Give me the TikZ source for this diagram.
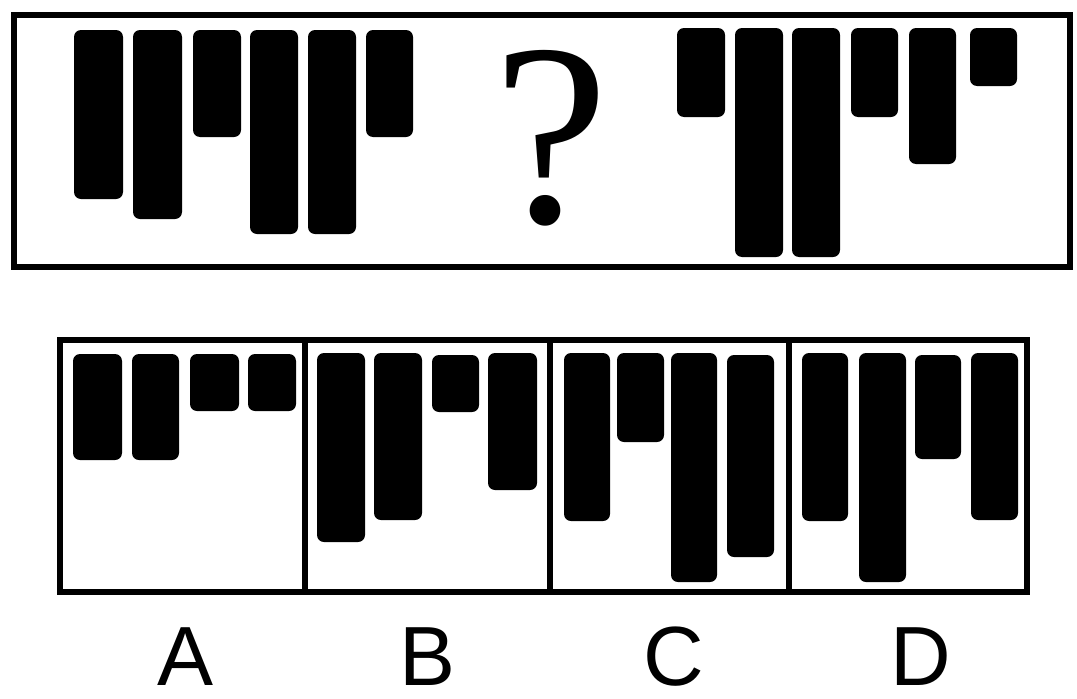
\documentclass[tikz,border=0pt]{standalone}
\usepackage{fontspec}
\setmainfont{Liberation Sans}
\newfontfamily\qfont{Liberation Serif}
\begin{document}
\begin{tikzpicture}[x=1pt,y=-1pt,
  bar/.style={fill=black,rounded corners=7pt},
  frame/.style={draw=black,line width=6pt},
  lbl/.style={inner sep=0pt,anchor=base,font=\fontsize{84}{84}\selectfont}]
\useasboundingbox[fill=white] (0,0) rectangle (1077,699);
% top frame
\draw[frame] (14,15) rectangle (1070,266.5);
% left group
\fill[bar] (74,30) rectangle (123,199);
\fill[bar] (133,30) rectangle (182,219);
\fill[bar] (193,30) rectangle (241,137);
\fill[bar] (250,30) rectangle (298,234);
\fill[bar] (308,30) rectangle (356,234);
\fill[bar] (366,30) rectangle (413,137);
% question mark
\node[inner sep=0pt,anchor=base,font=\qfont\fontsize{260}{260}\selectfont] (q) at (551,222) {?};
% right group
\fill[bar] (677,28) rectangle (725,117);
\fill[bar] (735,28) rectangle (783,257);
\fill[bar] (792,28) rectangle (840,257);
\fill[bar] (851,28) rectangle (898,117);
\fill[bar] (909,28) rectangle (956,164);
\fill[bar] (970,28) rectangle (1017,86);
% bottom frame
\draw[frame] (59.5,339.5) rectangle (1027,592);
\draw[frame] (305,339.5) -- (305,592);
\draw[frame] (550,339.5) -- (550,592);
\draw[frame] (788.5,339.5) -- (788.5,592);
% A
\fill[bar] (73,354) rectangle (122,460);
\fill[bar] (132,354) rectangle (179,460);
\fill[bar] (190,354) rectangle (239,411);
\fill[bar] (248,354) rectangle (296,411);
% B
\fill[bar] (317,353) rectangle (365,542);
\fill[bar] (374,353) rectangle (422,520);
\fill[bar] (432,355) rectangle (479,412);
\fill[bar] (488,353) rectangle (537,490);
% C
\fill[bar] (564,353) rectangle (610,521);
\fill[bar] (617,353) rectangle (664,442);
\fill[bar] (671,353) rectangle (717,582);
\fill[bar] (727,355) rectangle (774,557);
% D
\fill[bar] (802,353) rectangle (848,521);
\fill[bar] (859,353) rectangle (906,582);
\fill[bar] (915,355) rectangle (961,459);
\fill[bar] (971,353) rectangle (1018,520);
% labels
\node[lbl] (la) at (185.5,685) {A};
\node[lbl] (lb) at (427.5,685) {B};
\node[lbl] (lc) at (674,685) {C};
\node[lbl] (ld) at (921,685) {D};
\end{tikzpicture}
\end{document}
